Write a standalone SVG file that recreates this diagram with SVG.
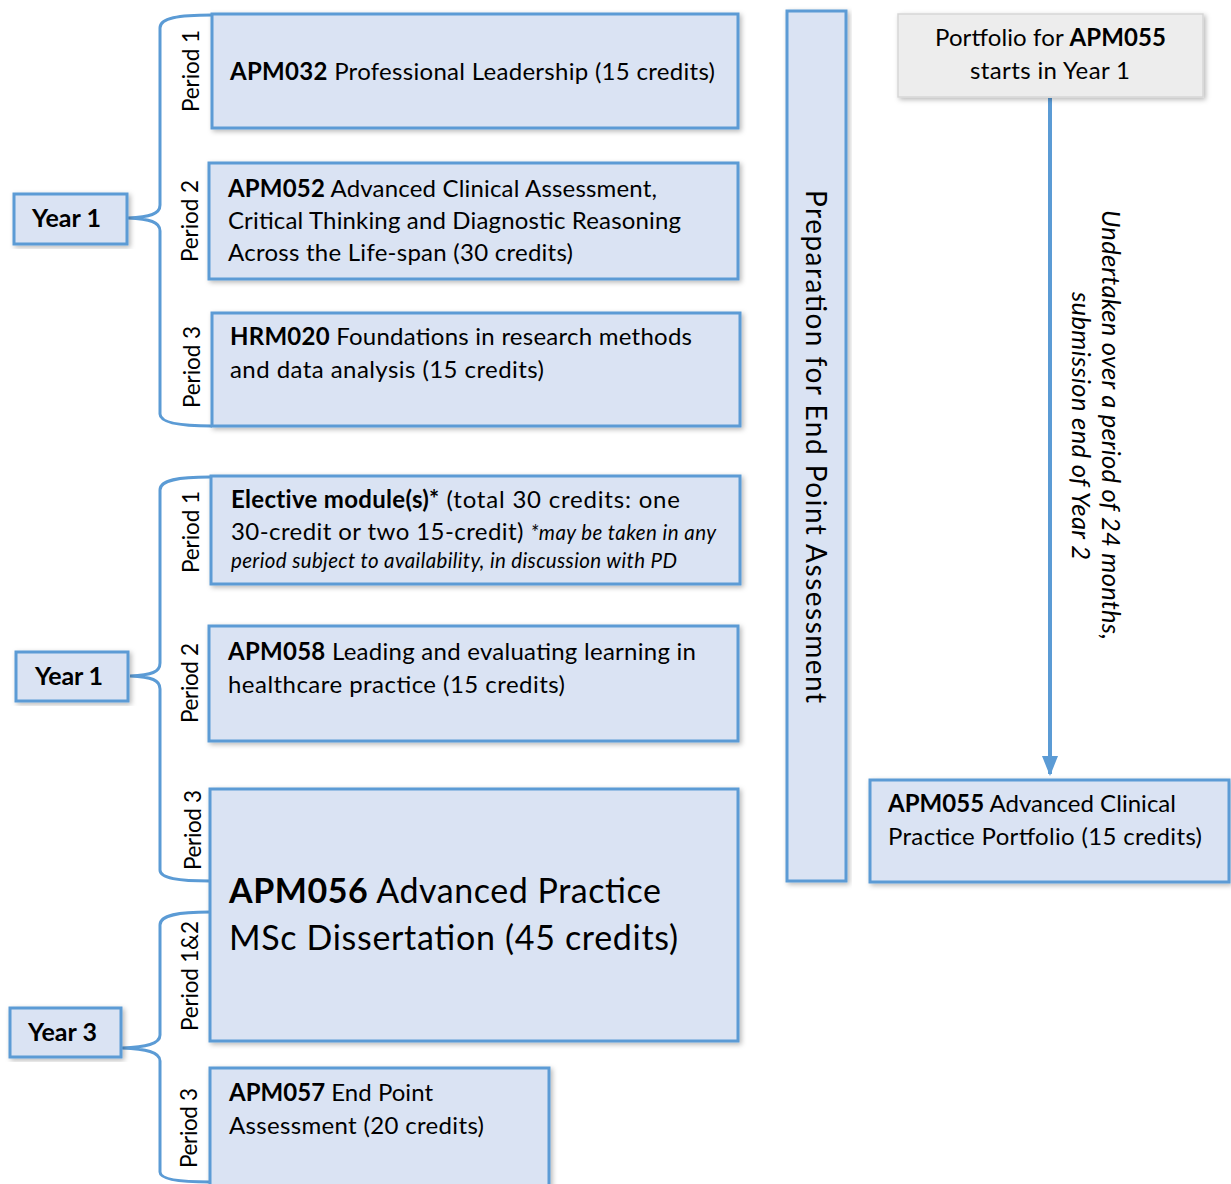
<svg xmlns="http://www.w3.org/2000/svg" width="1231" height="1184" viewBox="0 0 1231 1184">
<defs>
<filter id="sh" x="-10%" y="-10%" width="120%" height="120%">
<feDropShadow dx="2" dy="2" stdDeviation="2.5" flood-color="#000" flood-opacity="0.28"/>
</filter>
<marker id="ah" markerWidth="5" markerHeight="4" refX="4.5" refY="2" orient="auto" markerUnits="strokeWidth">
<path d="M0,0 L5,2 L0,4 z" fill="#5B9BD5"/>
</marker>
<style>
.box{fill:#DAE3F3;stroke:#5B9BD5;stroke-width:3;filter:url(#sh)}
.grey{fill:#EDEDED;stroke:#D6D6D6;stroke-width:1.5;filter:url(#sh)}
.br{fill:none;stroke:#5B9BD5;stroke-width:3}
text{font-family:Lato,"Open Sans","Liberation Sans",sans-serif;fill:#000}
.t{font-size:24px}
.b{font-weight:bold}
.i{font-style:italic}
.s{font-size:20.5px}
.big{font-size:34px}
.per{font-size:22.5px}
.yr{font-size:25px;font-weight:bold}
.note{font-size:25.5px;font-style:italic}
.prep{font-size:28px}
</style>
</defs>
<rect width="1231" height="1184" fill="#fff"/>

<g id="connectors">
<path class="br" d="M212,15 C178,15 160,18 160,28 L160,205 C160,214 150,217 128,218 C150,219 160,222 160,231 L160,414 C160,422 178,426 212,426"/>
<path class="br" d="M210,477 C178,477 160,480 160,490 L160,663 C160,672 152,675 130,676 C152,677 160,680 160,689 L160,870 C160,878 178,881 210,881"/>
<path class="br" d="M210,912 C178,912 160,915 160,925 L160,1035 C160,1044 146,1047 122,1048 C146,1049 160,1052 160,1061 L160,1172 C160,1179 178,1182 210,1182"/>
<line x1="1050" y1="98" x2="1050" y2="774" stroke="#5B9BD5" stroke-width="4" marker-end="url(#ah)"/>
</g>

<g id="year1a"><rect class="box" x="14" y="194" width="113" height="50"/><text class="yr" x="32" y="227" textLength="69">Year 1</text></g>
<g id="year1b"><rect class="box" x="16" y="652" width="112" height="49"/><text class="yr" x="35" y="685" textLength="68">Year 1</text></g>
<g id="year3"><rect class="box" x="10" y="1008" width="111" height="49"/><text class="yr" x="28" y="1041" textLength="69">Year 3</text></g>

<g id="periods">
<text class="per" transform="translate(199,112) rotate(-90)" textLength="82">Period 1</text>
<text class="per" transform="translate(198,262) rotate(-90)" textLength="82">Period 2</text>
<text class="per" transform="translate(200,408) rotate(-90)" textLength="82">Period 3</text>
<text class="per" transform="translate(199,573) rotate(-90)" textLength="82">Period 1</text>
<text class="per" transform="translate(198,723) rotate(-90)" textLength="80">Period 2</text>
<text class="per" transform="translate(201,870) rotate(-90)" textLength="80">Period 3</text>
<text class="per" transform="translate(198,1031) rotate(-90)" textLength="110">Period 1&amp;2</text>
<text class="per" transform="translate(197,1168) rotate(-90)" textLength="80">Period 3</text>
</g>

<g id="apm032"><rect class="box" x="212" y="14" width="526" height="114"/>
<text class="t" x="230" y="80" textLength="485"><tspan class="b">APM032</tspan> Professional Leadership (15 credits)</text></g>

<g id="apm052"><rect class="box" x="209" y="163" width="529" height="116"/>
<text class="t" x="228" y="197" textLength="429"><tspan class="b">APM052</tspan> Advanced Clinical Assessment,</text>
<text class="t" x="228" y="229" textLength="453">Critical Thinking and Diagnostic Reasoning</text>
<text class="t" x="228" y="261" textLength="345">Across the Life-span (30 credits)</text></g>

<g id="hrm020"><rect class="box" x="212" y="313" width="528" height="113"/>
<text class="t" x="230" y="345" textLength="462"><tspan class="b">HRM020</tspan> Foundations in research methods</text>
<text class="t" x="230" y="378" textLength="314">and data analysis (15 credits)</text></g>

<g id="elective"><rect class="box" x="211" y="476" width="529" height="108"/>
<text class="t" x="231" y="508" textLength="449"><tspan class="b" letter-spacing="-0.5">Elective module(s)*</tspan> (total 30 credits: one</text>
<text class="t" x="231" y="540" textLength="485">30-credit or two 15-credit) <tspan class="i s">*may be taken in any</tspan></text>
<text class="i s" x="231" y="568" textLength="446">period subject to availability, in discussion with PD</text></g>

<g id="apm058"><rect class="box" x="209" y="626" width="529" height="115"/>
<text class="t" x="228" y="660" textLength="468"><tspan class="b">APM058</tspan> Leading and evaluating learning in</text>
<text class="t" x="228" y="693" textLength="337">healthcare practice (15 credits)</text></g>

<g id="apm056"><rect class="box" x="210" y="789" width="528" height="252"/>
<text class="big" x="229" y="903" textLength="432"><tspan class="b">APM056</tspan> Advanced Practice</text>
<text class="big" x="229" y="950" textLength="449">MSc Dissertation (45 credits)</text></g>

<g id="apm057"><rect class="box" x="210" y="1068" width="339" height="120"/>
<text class="t" x="229" y="1101" textLength="204"><tspan class="b">APM057</tspan> End Point</text>
<text class="t" x="229" y="1134" textLength="255">Assessment (20 credits)</text></g>

<g id="prep"><rect class="box" x="787" y="11" width="59" height="870"/>
<text class="prep" transform="translate(806,190) rotate(90)" textLength="513">Preparation for End Point Assessment</text></g>

<g id="portfolio"><rect class="grey" x="898" y="14" width="305" height="83"/>
<text class="t" x="935" y="46" textLength="231">Portfolio for <tspan class="b">APM055</tspan></text>
<text class="t" x="970" y="79" textLength="160">starts in Year 1</text></g>

<g id="apm055"><rect class="box" x="870" y="780" width="359" height="102"/>
<text class="t" x="888" y="812" textLength="288"><tspan class="b">APM055</tspan> Advanced Clinical</text>
<text class="t" x="888" y="845" textLength="314">Practice Portfolio (15 credits)</text></g>

<g id="note">
<text class="note" transform="translate(1102,210) rotate(90)" textLength="430">Undertaken over a period of 24 months,</text>
<text class="note" transform="translate(1072,292) rotate(90)" textLength="268">submission end of Year 2</text>
</g>
</svg>
